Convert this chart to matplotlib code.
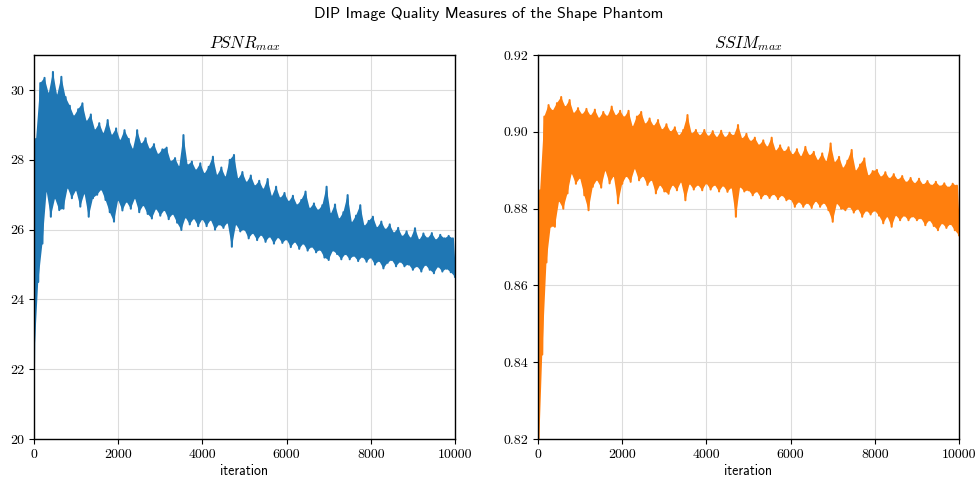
import numpy as np
import matplotlib
matplotlib.use("Agg")
import matplotlib.pyplot as plt

# Envelope samples of the DIP run: troughs at iterations 0, 100, ..., 10000
# and peaks at iterations 50, 150, ..., 9950.
psnr_lo = [22.2, 24.5, 25.6, 27.1, 26.37, 26.9, 26.56, 26.6, 27.2, 26.9,
           27.13, 26.66, 27.04, 26.37, 26.9, 27.0, 27.15, 26.85, 26.5, 26.23,
           26.85, 26.55, 26.8, 26.6, 26.9, 26.5, 26.7, 26.45, 26.32, 26.6,
           26.4, 26.56, 26.3, 26.45, 26.2, 25.99, 26.35, 26.15, 26.32, 26.1,
           26.3, 26.1, 26.28, 26.0, 26.15, 26.05, 26.2, 25.51, 26.15, 25.95,
           26.0, 25.75, 25.9, 25.7, 25.85, 25.65, 25.8, 25.6, 25.78, 25.62,
           25.72, 25.5, 25.65, 25.45, 25.6, 25.4, 25.51, 25.35, 25.42, 25.2,
           25.13, 25.4, 25.3, 25.15, 25.3, 25.15, 25.25, 25.1, 25.22, 25.08,
           25.2, 25.0, 25.1, 24.89, 25.05, 25.13, 24.95, 25.08, 24.95, 25.0,
           24.85, 24.95, 24.8, 24.99, 24.85, 24.75, 24.94, 24.8, 24.88, 24.78,
           24.65]
psnr_hi = [28.6, 30.2, 30.35, 29.9, 30.52, 29.85, 30.38, 29.8, 29.55, 29.25,
           29.45, 29.62, 29.1, 29.3, 28.85, 29.05, 28.75, 29.14, 28.7, 28.9,
           28.55, 28.85, 28.6, 28.3, 28.85, 28.45, 28.62, 28.3, 28.45, 28.15,
           28.3, 28.35, 27.95, 28.05, 27.8, 28.71, 27.85, 27.95, 27.7, 27.9,
           27.6, 27.8, 28.09, 27.55, 27.78, 27.5, 28.0, 28.14, 27.45, 27.65,
           27.35, 27.55, 27.25, 27.4, 27.15, 27.45, 26.95, 27.23, 26.9, 27.05,
           26.8, 26.97, 26.7, 26.85, 27.09, 26.6, 26.75, 26.55, 26.7, 27.23,
           26.45, 26.72, 26.3, 26.5, 26.99, 26.2, 26.4, 26.7, 26.1, 26.25,
           26.37, 26.05, 26.23, 26.0, 26.15, 25.9, 26.05, 25.8, 25.95, 25.75,
           26.04, 25.7, 25.89, 25.75, 25.9, 25.7, 25.85, 25.75, 25.82, 25.75]

ssim_lo = [0.81, 0.842, 0.866, 0.8753, 0.8753, 0.882, 0.88, 0.884, 0.8892, 0.8865,
           0.888, 0.8835, 0.8796, 0.8857, 0.8875, 0.8855, 0.890, 0.8866, 0.8885, 0.8814,
           0.8865, 0.8885, 0.887, 0.8905, 0.8874, 0.8885, 0.8862, 0.8875, 0.884, 0.8862,
           0.8845, 0.8839, 0.8862, 0.8848, 0.887, 0.8822, 0.8865, 0.885, 0.8862, 0.8848,
           0.8866, 0.885, 0.8862, 0.8845, 0.886, 0.8844, 0.8855, 0.8779, 0.8857, 0.8845,
           0.8848, 0.8835, 0.8845, 0.8827, 0.8838, 0.8828, 0.8838, 0.8825, 0.8835, 0.8822,
           0.8825, 0.8805, 0.8818, 0.8805, 0.8815, 0.8802, 0.882, 0.8805, 0.8815, 0.8796,
           0.8766, 0.8814, 0.88, 0.8796, 0.8805, 0.879, 0.88, 0.8779, 0.8795, 0.8785,
           0.8795, 0.8782, 0.8762, 0.878, 0.8753, 0.8783, 0.877, 0.8782, 0.877, 0.878,
           0.877, 0.8775, 0.8757, 0.877, 0.8755, 0.8744, 0.8762, 0.875, 0.876, 0.8744,
           0.8731]
ssim_hi = [0.8848, 0.904, 0.907, 0.9055, 0.9075, 0.9091, 0.9065, 0.9083, 0.9048, 0.9062,
           0.9045, 0.906, 0.9042, 0.9058, 0.9035, 0.9052, 0.904, 0.9066, 0.9042, 0.9055,
           0.9038, 0.9055, 0.9013, 0.904, 0.9052, 0.902, 0.9035, 0.9015, 0.9031, 0.9005,
           0.902, 0.9, 0.9012, 0.899, 0.9005, 0.9044, 0.8995, 0.9005, 0.899, 0.9005,
           0.8988, 0.9002, 0.8985, 0.9003, 0.8985, 0.8998, 0.899, 0.9018, 0.8982, 0.8995,
           0.8975, 0.8985, 0.8965, 0.8978, 0.896, 0.8985, 0.895, 0.8965, 0.8948, 0.896,
           0.894, 0.8955, 0.8935, 0.8961, 0.8938, 0.8948, 0.8925, 0.8944, 0.8922, 0.897,
           0.892, 0.8935, 0.8905, 0.8925, 0.8953, 0.8898, 0.8915, 0.8931, 0.8885, 0.8898,
           0.8901, 0.8882, 0.8895, 0.8878, 0.889, 0.8875, 0.8885, 0.8868, 0.888, 0.8865,
           0.8878, 0.8862, 0.8872, 0.886, 0.887, 0.8858, 0.8866, 0.8855, 0.8865, 0.886]

x_ticks = [0, 2000, 4000, 6000, 8000, 10000]
psnr_ticks = [20, 22, 24, 26, 28, 30]
ssim_ticks = [0.82, 0.84, 0.86, 0.88, 0.90, 0.92]

iters_lo = np.arange(0, 10001, 100)
iters_hi = np.arange(50, 10000, 100)


def interleave(lo, hi):
    vals = np.empty(len(lo) + len(hi))
    vals[0::2] = lo
    vals[1::2] = hi
    return vals


iters = interleave(iters_lo, iters_hi)
psnr = interleave(psnr_lo, psnr_hi)
ssim = interleave(ssim_lo, ssim_hi)

plt.rcParams["mathtext.fontset"] = "cm"
plt.rcParams["axes.formatter.use_mathtext"] = True

fig = plt.figure(figsize=(9.77, 4.84), dpi=100)
ax1 = fig.add_axes([0.0348, 0.093, 0.4309, 0.793])
ax2 = fig.add_axes([0.5507, 0.093, 0.4309, 0.793])

panels = [
    (ax1, psnr, psnr_lo, psnr_hi, "#1f77b4", (20, 31), psnr_ticks,
     r"$PSNR_{max}$", "{:.0f}"),
    (ax2, ssim, ssim_lo, ssim_hi, "#ff7f0e", (0.82, 0.92), ssim_ticks,
     r"$SSIM_{max}$", "{:.2f}"),
]

for ax, vals, lo, hi, color, ylim, yticks, title, fmt in panels:
    # the dense oscillation between peaks and troughs reads as a solid band
    ax.fill(np.r_[iters_hi, iters_lo[::-1]], np.r_[hi, lo[::-1]],
            color=color, lw=0)
    ax.plot(iters, vals, color=color, lw=1.5)
    ax.set_xlim(0, 10000)
    ax.set_ylim(*ylim)
    ax.set_xticks(x_ticks)
    ax.set_xticklabels([str(t) for t in x_ticks], family="cmr10", fontsize=10)
    ax.set_yticks(yticks)
    ax.set_yticklabels([fmt.format(t) for t in yticks], family="cmr10", fontsize=10)
    ax.grid(True, color="#dcdcdc", lw=0.8)
    ax.set_axisbelow(True)
    ax.set_title(title, fontsize=12, pad=5)
    ax.set_xlabel("iteration", family="cmss10", fontsize=10, labelpad=2)
    for sp in ax.spines.values():
        sp.set_color("black")
        sp.set_linewidth(1.0)

fig.suptitle("DIP Image Quality Measures of the Shape Phantom",
             family="cmss10", fontsize=11.5, y=0.985)

fig.savefig("out.png", dpi=100)
